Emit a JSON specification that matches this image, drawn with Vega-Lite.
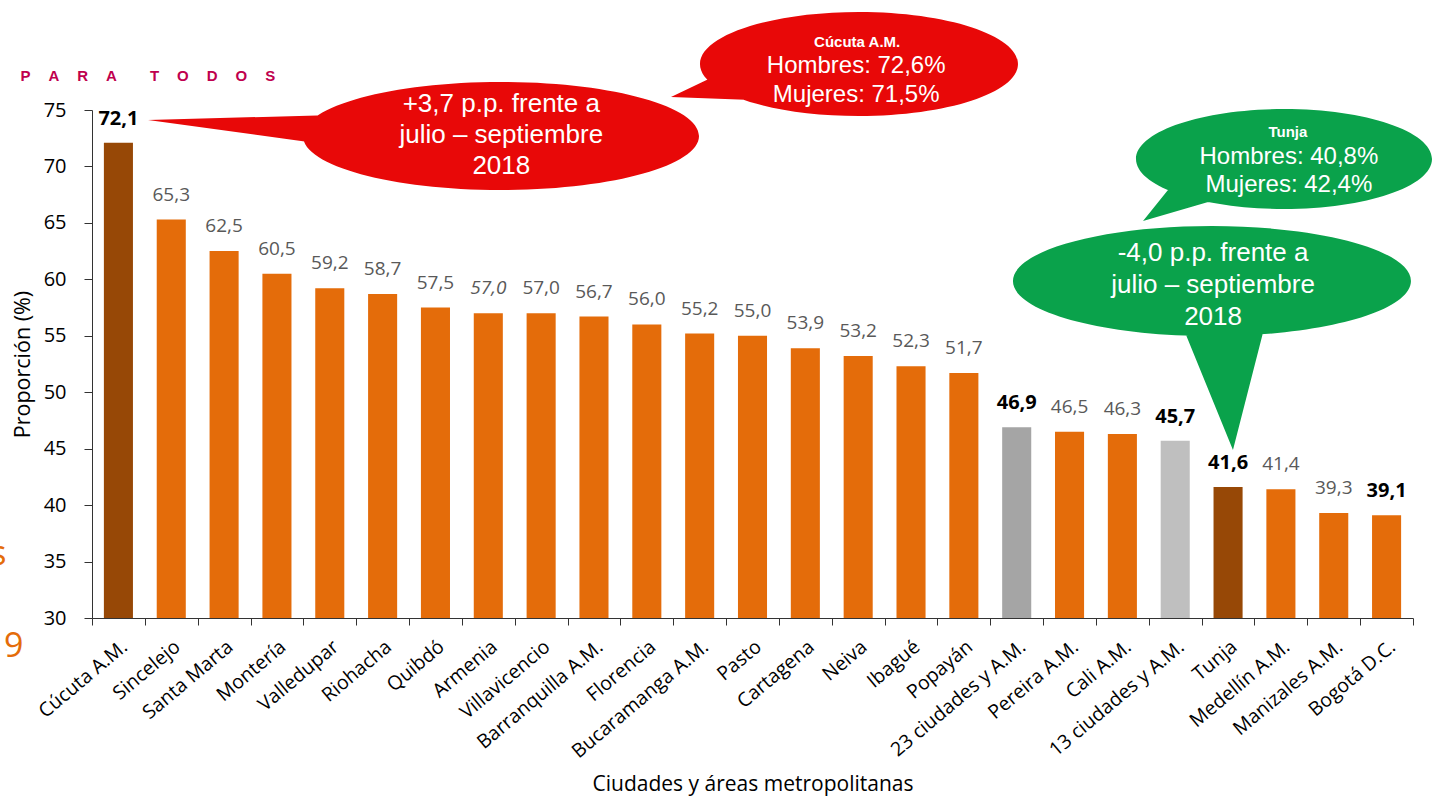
{
  "$schema": "https://vega.github.io/schema/vega-lite/v6.json",
  "width": 1321,
  "height": 508,
  "autosize": {"type": "none"},
  "padding": {"left": 92, "top": 110, "right": 34, "bottom": 187},
  "config": {
    "view": {"stroke": null},
    "font": "Open Sans",
    "locale": {"number": {"decimal": ",", "thousands": ".", "grouping": [3], "currency": ["$", ""]}}
  },
  "data": {
    "values": [
      {"ciudad": "Cúcuta A.M.", "valor": 72.1, "grupo": "Destacada"},
      {"ciudad": "Sincelejo", "valor": 65.3, "grupo": "Ciudad"},
      {"ciudad": "Santa Marta", "valor": 62.5, "grupo": "Ciudad"},
      {"ciudad": "Montería", "valor": 60.5, "grupo": "Ciudad"},
      {"ciudad": "Valledupar", "valor": 59.2, "grupo": "Ciudad"},
      {"ciudad": "Riohacha", "valor": 58.7, "grupo": "Ciudad"},
      {"ciudad": "Quibdó", "valor": 57.5, "grupo": "Ciudad"},
      {"ciudad": "Armenia", "valor": 57.0, "grupo": "Ciudad"},
      {"ciudad": "Villavicencio", "valor": 57.0, "grupo": "Ciudad"},
      {"ciudad": "Barranquilla A.M.", "valor": 56.7, "grupo": "Ciudad"},
      {"ciudad": "Florencia", "valor": 56.0, "grupo": "Ciudad"},
      {"ciudad": "Bucaramanga A.M.", "valor": 55.2, "grupo": "Ciudad"},
      {"ciudad": "Pasto", "valor": 55.0, "grupo": "Ciudad"},
      {"ciudad": "Cartagena", "valor": 53.9, "grupo": "Ciudad"},
      {"ciudad": "Neiva", "valor": 53.2, "grupo": "Ciudad"},
      {"ciudad": "Ibagué", "valor": 52.3, "grupo": "Ciudad"},
      {"ciudad": "Popayán", "valor": 51.7, "grupo": "Ciudad"},
      {"ciudad": "23 ciudades y A.M.", "valor": 46.9, "grupo": "23 ciudades"},
      {"ciudad": "Pereira A.M.", "valor": 46.5, "grupo": "Ciudad"},
      {"ciudad": "Cali A.M.", "valor": 46.3, "grupo": "Ciudad"},
      {"ciudad": "13 ciudades y A.M.", "valor": 45.7, "grupo": "13 ciudades"},
      {"ciudad": "Tunja", "valor": 41.6, "grupo": "Destacada"},
      {"ciudad": "Medellín A.M.", "valor": 41.4, "grupo": "Ciudad"},
      {"ciudad": "Manizales A.M.", "valor": 39.3, "grupo": "Ciudad"},
      {"ciudad": "Bogotá D.C.", "valor": 39.1, "grupo": "Ciudad"}
    ]
  },
  "encoding": {
    "x": {
      "field": "ciudad",
      "type": "nominal",
      "sort": null,
      "scale": {
        "domain": ["Cúcuta A.M.", "Sincelejo", "Santa Marta", "Montería", "Valledupar", "Riohacha", "Quibdó", "Armenia", "Villavicencio", "Barranquilla A.M.", "Florencia", "Bucaramanga A.M.", "Pasto", "Cartagena", "Neiva", "Ibagué", "Popayán", "23 ciudades y A.M.", "Pereira A.M.", "Cali A.M.", "13 ciudades y A.M.", "Tunja", "Medellín A.M.", "Manizales A.M.", "Bogotá D.C."],
        "paddingInner": 0,
        "paddingOuter": 0
      },
      "axis": {
        "title": "Ciudades y áreas metropolitanas",
        "labelAngle": -40,
        "labelFont": "Open Sans",
        "labelFontSize": 19.5,
        "labelColor": "#000000",
        "labelPadding": 12,
        "tickBand": "extent",
        "tickSize": 7,
        "tickColor": "#333333",
        "domainColor": "#333333",
        "titleFont": "Open Sans",
        "titleFontSize": 21,
        "titleFontWeight": "normal",
        "titleColor": "#000000",
        "titlePadding": 12
      }
    },
    "y": {
      "field": "valor",
      "type": "quantitative",
      "scale": {"domain": [30, 75], "nice": false, "zero": false},
      "axis": {
        "title": "Proporción (%)",
        "values": [30, 35, 40, 45, 50, 55, 60, 65, 70, 75],
        "grid": false,
        "labelFont": "Open Sans",
        "labelFontSize": 20,
        "labelColor": "#000000",
        "labelPadding": 18,
        "tickSize": 8,
        "tickColor": "#333333",
        "domainColor": "#333333",
        "titleFont": "Open Sans",
        "titleFontSize": 21.5,
        "titleFontWeight": "normal",
        "titleColor": "#000000",
        "titlePadding": 9
      }
    }
  },
  "layer": [
    {
      "mark": {"type": "bar", "width": {"band": 0.55}},
      "encoding": {
        "y2": {"datum": 30},
        "color": {
          "field": "grupo",
          "type": "nominal",
          "scale": {"domain": ["Ciudad", "Destacada", "23 ciudades", "13 ciudades"], "range": ["#E46C0A", "#974806", "#A5A5A5", "#BFBFBF"]},
          "legend": null
        }
      }
    },
    {
      "transform": [{"filter": {"not": {"field": "ciudad", "oneOf": ["Cúcuta A.M.", "23 ciudades y A.M.", "13 ciudades y A.M.", "Tunja", "Bogotá D.C.", "Armenia"]}}}],
      "mark": {"type": "text", "baseline": "alphabetic", "dy": -19, "font": "Open Sans", "fontSize": 19, "color": "#595959"},
      "encoding": {"text": {"field": "valor", "type": "quantitative", "format": ".1f"}}
    },
    {
      "transform": [{"filter": {"field": "ciudad", "equal": "Armenia"}}],
      "mark": {"type": "text", "baseline": "alphabetic", "dy": -19, "font": "Open Sans", "fontSize": 19, "fontStyle": "italic", "color": "#595959"},
      "encoding": {"text": {"field": "valor", "type": "quantitative", "format": ".1f"}}
    },
    {
      "transform": [{"filter": {"field": "ciudad", "oneOf": ["Cúcuta A.M.", "23 ciudades y A.M.", "13 ciudades y A.M.", "Tunja", "Bogotá D.C."]}}],
      "mark": {"type": "text", "baseline": "alphabetic", "dy": -18, "font": "Open Sans", "fontSize": 20, "fontWeight": "bold", "color": "#000000"},
      "encoding": {"text": {"field": "valor", "type": "quantitative", "format": ".1f"}}
    },
    {
      "data": {"values": [{"ciudad": "Armenia", "valor": 72.7, "lineas": ["+3,7 p.p. frente a", "julio – septiembre", "2018"]}]},
      "layer": [
        {
          "mark": {"type": "point", "shape": "M 2.107 0 C 2.107 0.2982 1.2205 0.54 0.127 0.54 C -0.9665 0.54 -1.853 0.2982 -1.853 0 C -1.853 -0.2982 -0.9665 -0.54 0.127 -0.54 C 1.2205 -0.54 2.107 -0.2982 2.107 0 Z M -1.583 0.09 L -3.403 -0.16 L -1.533 -0.21 Z", "size": 40000, "filled": true, "fill": "#E80808", "strokeWidth": 0, "opacity": 1}
        },
        {
          "mark": {"type": "text", "align": "center", "baseline": "middle", "dx": 13, "dy": -32, "font": "Liberation Sans", "fontSize": 26, "lineHeight": 31, "color": "#FFFFFF"},
          "encoding": {"text": {"field": "lineas"}}
        }
      ]
    },
    {
      "data": {"values": [{"ciudad": "Neiva", "valor": 79.07, "titulo": "Cúcuta A.M.", "lineas": ["Hombres: 72,6%", "Mujeres: 71,5%"]}]},
      "layer": [
        {
          "mark": {"type": "point", "shape": "M 1.598 0 C 1.598 0.2872 0.8862 0.52 0.008 0.52 C -0.8702 0.52 -1.582 0.2872 -1.582 0 C -1.582 -0.2872 -0.8702 -0.52 0.008 -0.52 C 0.8862 -0.52 1.598 -0.2872 1.598 0 Z M -1.062 0.36 L -1.872 0.33 L -1.432 0.12 Z", "size": 40000, "filled": true, "fill": "#E80808", "strokeWidth": 0, "opacity": 1}
        },
        {
          "mark": {"type": "text", "align": "center", "baseline": "middle", "dx": -1, "dy": -22, "font": "Liberation Sans", "fontSize": 15, "fontWeight": "bold", "color": "#FFFFFF"},
          "encoding": {"text": {"field": "titulo"}}
        },
        {
          "mark": {"type": "text", "align": "center", "baseline": "middle", "dx": -2, "dy": 2, "font": "Liberation Sans", "fontSize": 24, "lineHeight": 29, "color": "#FFFFFF"},
          "encoding": {"text": {"field": "lineas"}}
        }
      ]
    },
    {
      "data": {"values": [{"ciudad": "Tunja", "valor": 59.85, "lineas": ["-4,0 p.p. frente a", "julio – septiembre", "2018"]}]},
      "layer": [
        {
          "mark": {"type": "point", "shape": "M 1.829 0 C 1.829 0.3038 0.9381 0.55 -0.161 0.55 C -1.2601 0.55 -2.151 0.3038 -2.151 0 C -2.151 -0.3038 -1.2601 -0.55 -0.161 -0.55 C 0.9381 -0.55 1.829 -0.3038 1.829 0 Z M 0.369 0.44 L 0.049 1.69 L -0.461 0.44 Z", "size": 40000, "filled": true, "fill": "#0AA24B", "strokeWidth": 0, "opacity": 1}
        },
        {
          "mark": {"type": "text", "align": "center", "baseline": "middle", "dx": -15, "dy": -28, "font": "Liberation Sans", "fontSize": 26, "lineHeight": 32, "color": "#FFFFFF"},
          "encoding": {"text": {"field": "lineas"}}
        }
      ]
    },
    {
      "data": {"values": [{"ciudad": "Medellín A.M.", "valor": 70.66, "titulo": "Tunja", "lineas": ["Hombres: 40,8%", "Mujeres: 42,4%"]}]},
      "layer": [
        {
          "mark": {"type": "point", "shape": "M 1.511 0 C 1.511 0.2762 0.8484 0.5 0.031 0.5 C -0.7864 0.5 -1.449 0.2762 -1.449 0 C -1.449 -0.2762 -0.7864 -0.5 0.031 -0.5 C 0.8484 -0.5 1.511 -0.2762 1.511 0 Z M -0.659 0.41 L -1.379 0.62 L -1.089 0.26 Z", "size": 40000, "filled": true, "fill": "#0AA24B", "strokeWidth": 0, "opacity": 1}
        },
        {
          "mark": {"type": "text", "align": "center", "baseline": "middle", "dx": 7, "dy": -27, "font": "Liberation Sans", "fontSize": 15, "fontWeight": "bold", "color": "#FFFFFF"},
          "encoding": {"text": {"field": "titulo"}}
        },
        {
          "mark": {"type": "text", "align": "center", "baseline": "middle", "dx": 8, "dy": -2, "font": "Liberation Sans", "fontSize": 24, "lineHeight": 28, "color": "#FFFFFF"},
          "encoding": {"text": {"field": "lineas"}}
        }
      ]
    },
    {
      "data": {"values": [{"ciudad": "Cúcuta A.M.", "valor": 77.57, "texto": "P\u2003\u2009A\u2003\u2009R\u2003\u2009A\u2003\u2003\u2009T\u2003\u2009O\u2003\u2009D\u2003\u2009O\u2003\u2009S"}]},
      "mark": {"type": "text", "align": "left", "baseline": "alphabetic", "dx": -98, "font": "Liberation Sans", "fontSize": 15, "fontWeight": "bold", "color": "#C0004E"},
      "encoding": {"text": {"field": "texto"}}
    },
    {
      "data": {"values": [{"ciudad": "Cúcuta A.M.", "valor": 26.55, "texto": "9"}]},
      "mark": {"type": "text", "align": "right", "baseline": "alphabetic", "dx": -95, "font": "Open Sans", "fontSize": 34, "color": "#E46C0A"},
      "encoding": {"text": {"field": "texto"}}
    },
    {
      "data": {"values": [{"ciudad": "Cúcuta A.M.", "valor": 34.69, "texto": "s"}]},
      "mark": {"type": "text", "align": "right", "baseline": "alphabetic", "dx": -112, "font": "Open Sans", "fontSize": 34, "color": "#E46C0A"},
      "encoding": {"text": {"field": "texto"}}
    }
  ]
}
